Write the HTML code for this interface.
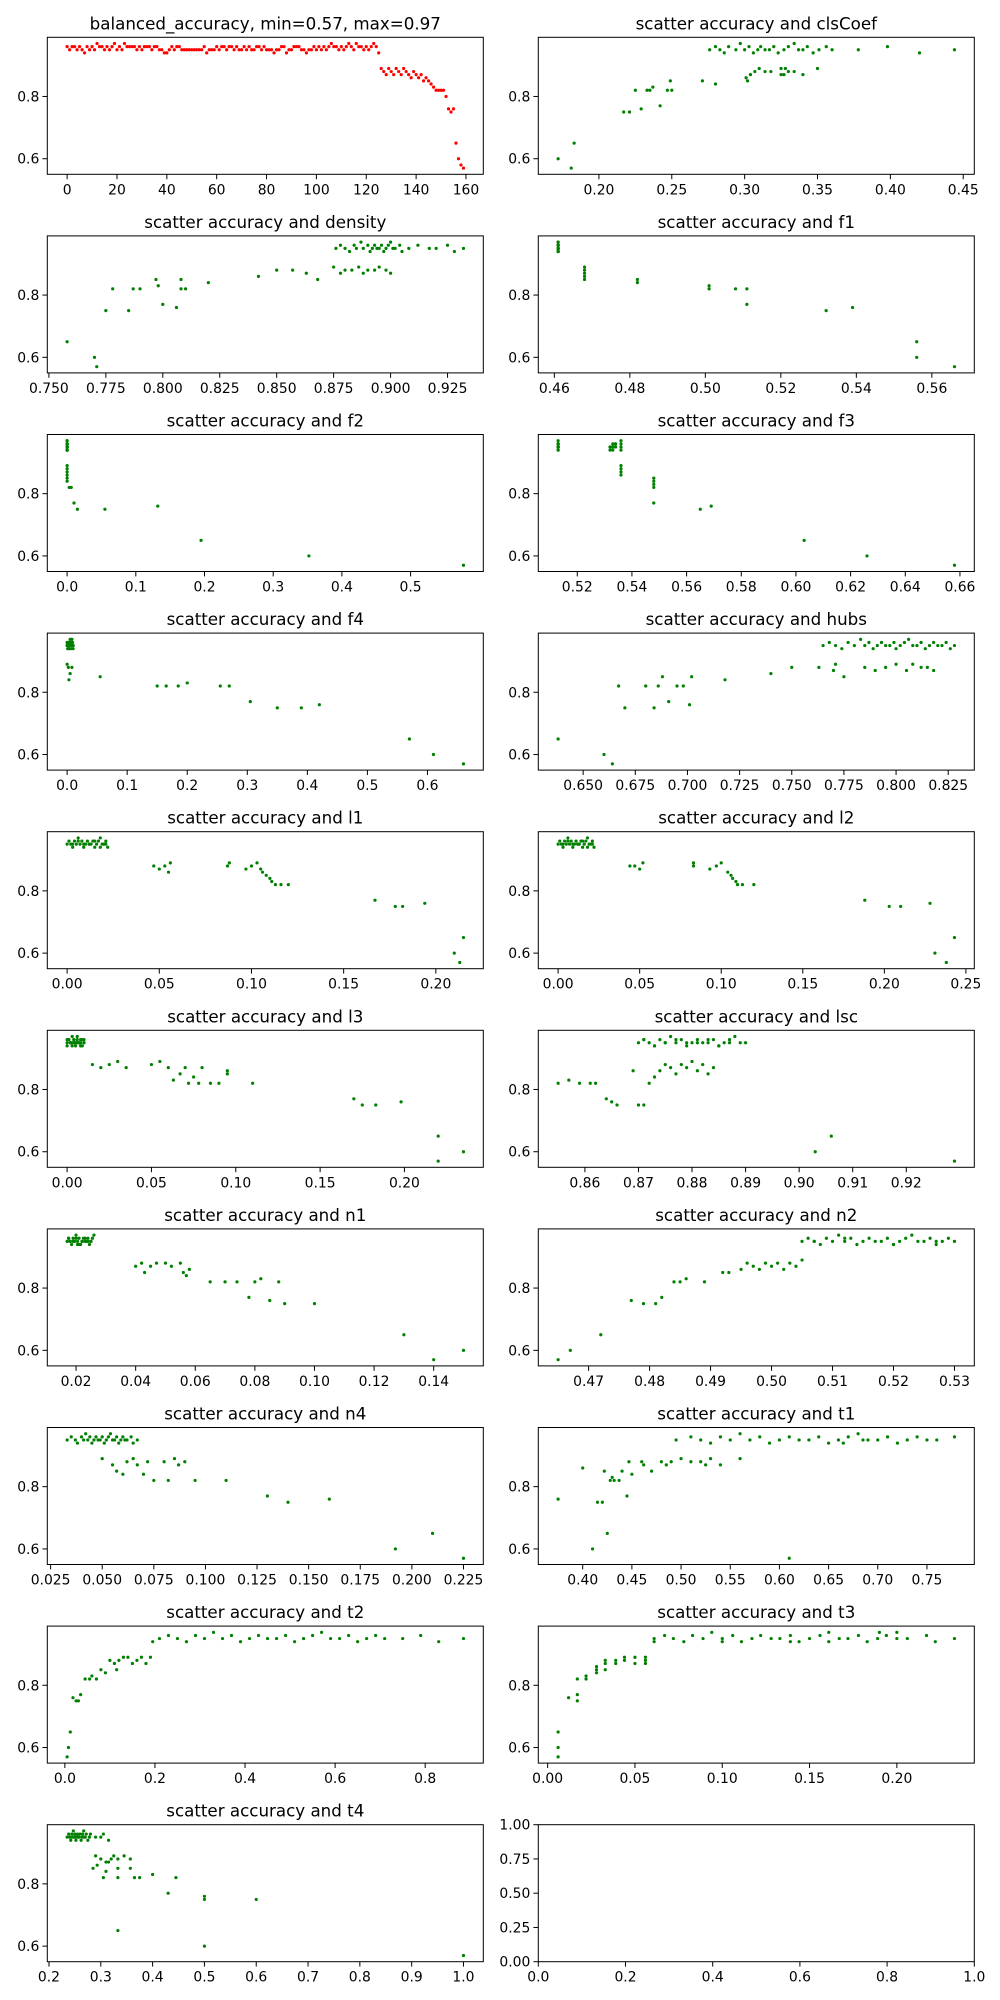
<!DOCTYPE html>
<html><head><meta charset="utf-8"><title>accuracy scatter grid</title>
<style>
html,body{margin:0;padding:0;background:#fff;}
svg{display:block;font-family:"DejaVu Sans","Liberation Sans",sans-serif;}
</style></head>
<body>
<svg id="fig" width="1000" height="2000" viewBox="0 0 1000 2000" xmlns="http://www.w3.org/2000/svg"></svg>
<script>
// ---------- data ----------
const accTop = [0.95,0.96,0.95,0.94,0.96,0.95,0.97,0.95,0.96,0.94,0.95,0.96,0.95,0.95,0.96,0.94,0.95,0.96,0.97,0.95,0.95,0.96,0.94,0.95,0.96,0.95,0.95,0.96,0.94,0.95];

const balancedAcc = [0.96,0.95,0.96,0.96,0.95,0.96,0.95,0.94,0.96,0.95,0.96,0.95,0.97,0.96,0.96,0.95,0.96,0.95,0.96,0.97,0.95,0.96,0.95,0.97,0.96,0.96,0.96,0.96,0.95,0.96,
0.95,0.96,0.96,0.96,0.95,0.96,0.96,0.95,0.95,0.94,0.94,0.95,0.96,0.95,0.96,0.96,0.95,0.95,0.95,0.95,0.95,0.95,0.95,0.95,0.95,0.96,0.94,0.95,0.95,0.95,
0.96,0.95,0.96,0.96,0.95,0.96,0.96,0.95,0.96,0.95,0.95,0.96,0.95,0.96,0.95,0.95,0.96,0.96,0.95,0.96,0.95,0.95,0.95,0.94,0.95,0.95,0.96,0.96,0.94,0.95,
0.95,0.96,0.96,0.96,0.95,0.95,0.94,0.95,0.95,0.96,0.95,0.96,0.95,0.96,0.95,0.96,0.97,0.96,0.96,0.95,0.96,0.95,0.96,0.97,0.96,0.95,0.97,0.96,0.96,0.95,
0.96,0.95,0.96,0.97,0.96,0.94,
0.89,0.88,0.87,0.89,0.88,0.87,0.89,0.88,0.87,0.89,0.88,0.87,0.86,0.88,0.87,0.86,0.87,0.85,0.86,0.85,0.84,0.83,0.82,0.82,0.82,0.82,0.80,0.76,0.75,0.76,0.65,0.60,0.58,0.57];

const clsTopX=[0.276,0.28,0.283,0.286,0.289,0.294,0.297,0.3,0.303,0.306,0.309,0.311,0.314,0.317,0.32,0.323,0.327,0.33,0.334,0.337,0.34,0.343,0.347,0.351,0.356,0.36,0.378,0.398,0.42,0.444];
const clsLowX=[0.172,0.181,0.183,0.217,0.221,0.225,0.229,0.233,0.235,0.237,0.242,0.247,0.249,0.25,0.271,0.28,0.301,0.302,0.304,0.307,0.31,0.314,0.318,0.325,0.325,0.327,0.328,0.33,0.334,0.34,0.35];
const clsLowY=[0.60,0.57,0.65,0.75,0.75,0.82,0.76,0.82,0.82,0.83,0.77,0.82,0.85,0.82,0.85,0.84,0.86,0.85,0.87,0.88,0.89,0.88,0.88,0.89,0.87,0.87,0.89,0.88,0.88,0.87,0.89];

const denTopX=[0.876,0.878,0.88,0.882,0.884,0.885,0.887,0.888,0.89,0.891,0.892,0.893,0.894,0.895,0.896,0.897,0.898,0.899,0.9,0.901,0.902,0.904,0.905,0.908,0.912,0.917,0.92,0.925,0.928,0.932];
const denLowX=[0.758,0.77,0.771,0.775,0.778,0.785,0.787,0.79,0.797,0.798,0.8,0.806,0.808,0.808,0.81,0.82,0.842,0.85,0.857,0.863,0.868,0.875,0.878,0.88,0.883,0.886,0.888,0.89,0.893,0.895,0.898,0.9];
const denLowY=[0.65,0.60,0.57,0.75,0.82,0.75,0.82,0.82,0.85,0.83,0.77,0.76,0.85,0.82,0.82,0.84,0.86,0.88,0.88,0.87,0.85,0.89,0.87,0.88,0.88,0.89,0.87,0.88,0.88,0.89,0.88,0.87];

const f1TopX=[0.461,0.461,0.461,0.461,0.461,0.461,0.461,0.461,0.461,0.461,0.461,0.461,0.461,0.461,0.461,0.461,0.461,0.461,0.461,0.461,0.461,0.461,0.461,0.461,0.461,0.461,0.461,0.461,0.461,0.461];
const f1LowX=[0.468,0.468,0.468,0.468,0.468,0.482,0.482,0.501,0.501,0.508,0.511,0.511,0.532,0.539,0.556,0.556,0.566];
const f1LowY=[0.89,0.88,0.87,0.86,0.85,0.85,0.84,0.83,0.82,0.82,0.82,0.77,0.75,0.76,0.65,0.60,0.57];

const f2TopX=[0,0,0,0,0,0,0,0,0,0,0,0,0,0,0,0,0,0,0,0,0,0,0,0,0,0,0,0,0,0];
const f2LowX=[0,0,0,0,0,0,0.003,0.006,0.01,0.015,0.055,0.132,0.195,0.352,0.577];
const f2LowY=[0.89,0.88,0.87,0.86,0.85,0.84,0.82,0.82,0.77,0.75,0.75,0.76,0.65,0.60,0.57];

const f3TopX=[0.513,0.513,0.513,0.513,0.513,0.513,0.513,0.513,0.513,0.513,0.513,0.513,0.513,0.513,0.513,0.532,0.533,0.534,0.536,0.532,0.533,0.534,0.536,0.532,0.533,0.534,0.536,0.536,0.533,0.534];
const f3LowX=[0.536,0.536,0.536,0.536,0.548,0.548,0.548,0.548,0.548,0.565,0.569,0.603,0.626,0.658];
const f3LowY=[0.89,0.88,0.87,0.86,0.85,0.84,0.83,0.82,0.77,0.75,0.76,0.65,0.60,0.57];

const f4TopX=[0,0.001,0.002,0.003,0.005,0.006,0.008,0.01,0,0.001,0.002,0.003,0.005,0.006,0.008,0.01,0,0.002,0.005,0.008,0,0.001,0.003,0.006,0.009,0,0.002,0.004,0.007,0.01];
const f4LowX=[0,0.002,0.005,0.008,0.003,0.055,0.15,0.165,0.185,0.2,0.255,0.27,0.305,0.35,0.39,0.42,0.57,0.61,0.66];
const f4LowY=[0.89,0.88,0.86,0.88,0.84,0.85,0.82,0.82,0.82,0.83,0.82,0.82,0.77,0.75,0.75,0.76,0.65,0.60,0.57];

const hubTopX=[0.765,0.768,0.771,0.774,0.777,0.78,0.783,0.785,0.787,0.789,0.791,0.793,0.795,0.797,0.799,0.8,0.802,0.804,0.806,0.808,0.81,0.812,0.814,0.816,0.818,0.82,0.822,0.824,0.826,0.828];
const hubLowX=[0.638,0.66,0.664,0.667,0.67,0.68,0.684,0.686,0.688,0.691,0.695,0.698,0.701,0.702,0.718,0.74,0.75,0.763,0.77,0.771,0.775,0.785,0.79,0.795,0.8,0.805,0.808,0.812,0.815,0.818];
const hubLowY=[0.65,0.60,0.57,0.82,0.75,0.82,0.75,0.82,0.85,0.77,0.82,0.82,0.76,0.85,0.84,0.86,0.88,0.88,0.87,0.89,0.85,0.88,0.87,0.88,0.89,0.87,0.89,0.88,0.88,0.87];

const l1TopX=[0,0.001,0.002,0.003,0.004,0.005,0.006,0.007,0.008,0.009,0.01,0.011,0.012,0.013,0.014,0.015,0.016,0.017,0.018,0.019,0.02,0.021,0.022,0.003,0.006,0.009,0.012,0.015,0.018,0.021];
const l1LowX=[0.047,0.05,0.053,0.055,0.056,0.087,0.088,0.097,0.1,0.103,0.105,0.106,0.108,0.11,0.111,0.113,0.116,0.12,0.167,0.178,0.182,0.194,0.21,0.213,0.215];
const l1LowY=[0.88,0.87,0.88,0.86,0.89,0.88,0.89,0.87,0.88,0.89,0.87,0.86,0.85,0.84,0.83,0.82,0.82,0.82,0.77,0.75,0.75,0.76,0.60,0.57,0.65];

const l2TopX=[0,0.001,0.002,0.003,0.004,0.005,0.006,0.007,0.008,0.009,0.01,0.011,0.012,0.013,0.014,0.015,0.016,0.017,0.018,0.019,0.02,0.021,0.022,0.003,0.006,0.009,0.012,0.015,0.018,0.021];
const l2LowX=[0.044,0.047,0.05,0.052,0.083,0.083,0.093,0.097,0.1,0.104,0.106,0.107,0.109,0.11,0.113,0.12,0.188,0.203,0.21,0.228,0.231,0.238,0.243];
const l2LowY=[0.88,0.88,0.87,0.89,0.89,0.88,0.87,0.88,0.89,0.86,0.85,0.84,0.83,0.82,0.82,0.82,0.77,0.75,0.75,0.76,0.60,0.57,0.65];

const l3TopX=[0,0.001,0.002,0.003,0.004,0.005,0.006,0.007,0.008,0.009,0.01,0,0.002,0.004,0.006,0.008,0.01,0.001,0.003,0.005,0.007,0.009,0,0.002,0.004,0.006,0.008,0.01,0.005,0.003];
const l3LowX=[0.015,0.02,0.025,0.03,0.035,0.05,0.055,0.06,0.063,0.067,0.07,0.072,0.075,0.078,0.08,0.085,0.09,0.095,0.095,0.11,0.17,0.175,0.183,0.198,0.22,0.22,0.235];
const l3LowY=[0.88,0.87,0.88,0.89,0.87,0.88,0.89,0.87,0.83,0.85,0.87,0.82,0.84,0.82,0.87,0.82,0.82,0.85,0.86,0.82,0.77,0.75,0.75,0.76,0.65,0.57,0.60];

const lscTopX=[0.87,0.871,0.872,0.873,0.874,0.875,0.876,0.877,0.878,0.879,0.88,0.881,0.882,0.883,0.884,0.885,0.886,0.887,0.888,0.889,0.89,0.871,0.873,0.875,0.877,0.879,0.881,0.883,0.885,0.887];
const lscLowX=[0.855,0.857,0.859,0.861,0.862,0.864,0.865,0.866,0.869,0.87,0.871,0.872,0.873,0.874,0.875,0.876,0.877,0.878,0.879,0.88,0.881,0.882,0.883,0.884,0.903,0.906,0.929];
const lscLowY=[0.82,0.83,0.82,0.82,0.82,0.77,0.76,0.75,0.86,0.75,0.75,0.82,0.84,0.86,0.88,0.87,0.85,0.88,0.87,0.89,0.86,0.88,0.85,0.87,0.60,0.65,0.57];

const n1TopX=[0.017,0.0175,0.018,0.0185,0.019,0.0195,0.02,0.0205,0.021,0.0215,0.022,0.0225,0.023,0.0235,0.024,0.0245,0.025,0.0255,0.026,0.018,0.019,0.02,0.021,0.022,0.023,0.024,0.025,0.0175,0.0205,0.0235];
const n1LowX=[0.04,0.042,0.043,0.045,0.047,0.05,0.052,0.055,0.056,0.057,0.058,0.065,0.07,0.074,0.078,0.08,0.082,0.085,0.088,0.09,0.1,0.13,0.14,0.15];
const n1LowY=[0.87,0.88,0.85,0.87,0.88,0.88,0.87,0.88,0.85,0.84,0.86,0.82,0.82,0.82,0.77,0.82,0.83,0.76,0.82,0.75,0.75,0.65,0.57,0.60];

const n2TopX=[0.505,0.506,0.507,0.508,0.509,0.51,0.511,0.512,0.513,0.514,0.515,0.516,0.517,0.518,0.519,0.52,0.521,0.522,0.523,0.524,0.525,0.526,0.527,0.528,0.529,0.53,0.507,0.512,0.52,0.527];
const n2LowX=[0.465,0.467,0.472,0.477,0.479,0.481,0.482,0.484,0.485,0.486,0.489,0.492,0.493,0.495,0.496,0.497,0.498,0.499,0.5,0.501,0.502,0.503,0.504,0.505];
const n2LowY=[0.57,0.60,0.65,0.76,0.75,0.75,0.77,0.82,0.82,0.83,0.82,0.85,0.85,0.86,0.88,0.87,0.86,0.88,0.87,0.88,0.86,0.88,0.87,0.89];

const n4TopX=[0.033,0.035,0.037,0.038,0.04,0.041,0.042,0.043,0.044,0.045,0.046,0.047,0.048,0.049,0.05,0.051,0.052,0.053,0.054,0.055,0.056,0.057,0.058,0.059,0.06,0.061,0.062,0.064,0.065,0.067];
const n4LowX=[0.05,0.055,0.057,0.06,0.062,0.065,0.067,0.07,0.072,0.075,0.08,0.082,0.085,0.087,0.09,0.095,0.11,0.13,0.14,0.16,0.192,0.21,0.225];
const n4LowY=[0.89,0.87,0.85,0.84,0.88,0.89,0.87,0.84,0.88,0.82,0.88,0.82,0.89,0.87,0.88,0.82,0.82,0.77,0.75,0.76,0.60,0.65,0.57];

const t1TopX=[0.495,0.51,0.52,0.53,0.54,0.55,0.56,0.57,0.58,0.59,0.6,0.61,0.62,0.63,0.64,0.65,0.66,0.67,0.68,0.69,0.7,0.71,0.72,0.73,0.74,0.75,0.76,0.778,0.665,0.685];
const t1LowX=[0.375,0.4,0.41,0.415,0.42,0.425,0.422,0.428,0.43,0.432,0.437,0.44,0.445,0.447,0.45,0.46,0.462,0.47,0.48,0.485,0.49,0.5,0.51,0.52,0.525,0.53,0.54,0.56,0.61];
const t1LowY=[0.76,0.86,0.60,0.75,0.75,0.65,0.85,0.82,0.83,0.82,0.82,0.85,0.77,0.88,0.84,0.88,0.87,0.85,0.88,0.87,0.88,0.89,0.88,0.88,0.87,0.89,0.87,0.89,0.57];

const t2TopX=[0.21,0.23,0.25,0.27,0.29,0.31,0.33,0.35,0.37,0.39,0.41,0.43,0.45,0.47,0.49,0.51,0.53,0.55,0.57,0.59,0.61,0.63,0.65,0.67,0.69,0.71,0.75,0.79,0.83,0.885];
const t2LowX=[0.005,0.008,0.012,0.018,0.025,0.03,0.035,0.045,0.055,0.06,0.07,0.08,0.09,0.1,0.11,0.115,0.12,0.13,0.14,0.15,0.16,0.17,0.18,0.19,0.195];
const t2LowY=[0.57,0.60,0.65,0.76,0.75,0.75,0.77,0.82,0.82,0.83,0.82,0.85,0.84,0.88,0.87,0.85,0.88,0.89,0.89,0.87,0.88,0.89,0.87,0.89,0.94];

const t3TopX=[0.061,0.067,0.072,0.078,0.083,0.089,0.094,0.1,0.106,0.111,0.117,0.122,0.128,0.133,0.139,0.144,0.15,0.156,0.161,0.167,0.172,0.178,0.183,0.189,0.194,0.2,0.206,0.217,0.222,0.233];
const t3LowX=[0.006,0.006,0.006,0.012,0.017,0.017,0.017,0.022,0.022,0.028,0.028,0.028,0.033,0.033,0.033,0.039,0.039,0.044,0.044,0.05,0.05,0.056,0.056,0.056,0.061,0.1,0.139,0.161,0.19,0.2];
const t3LowY=[0.65,0.60,0.57,0.76,0.77,0.75,0.82,0.82,0.83,0.84,0.85,0.86,0.85,0.87,0.88,0.87,0.88,0.88,0.89,0.87,0.89,0.87,0.88,0.89,0.94,0.94,0.94,0.94,0.97,0.97];

const t4TopX=[0.235,0.238,0.24,0.242,0.244,0.245,0.247,0.248,0.25,0.252,0.254,0.255,0.257,0.258,0.26,0.262,0.264,0.265,0.267,0.268,0.27,0.272,0.275,0.278,0.28,0.29,0.3,0.305,0.315,0.25];
const t4LowX=[0.285,0.29,0.293,0.3,0.305,0.31,0.31,0.315,0.32,0.325,0.333,0.333,0.333,0.333,0.345,0.357,0.357,0.365,0.375,0.4,0.43,0.445,0.5,0.5,0.5,0.6,1.0];
const t4LowY=[0.85,0.89,0.86,0.88,0.82,0.84,0.87,0.87,0.88,0.89,0.65,0.82,0.85,0.88,0.89,0.85,0.88,0.82,0.82,0.83,0.77,0.82,0.75,0.76,0.60,0.75,0.57];

// tick labels per panel
const xTicks = [
 ["0","20","40","60","80","100","120","140","160"],
 ["0.20","0.25","0.30","0.35","0.40","0.45"],
 ["0.750","0.775","0.800","0.825","0.850","0.875","0.900","0.925"],
 ["0.46","0.48","0.50","0.52","0.54","0.56"],
 ["0.0","0.1","0.2","0.3","0.4","0.5"],
 ["0.52","0.54","0.56","0.58","0.60","0.62","0.64","0.66"],
 ["0.0","0.1","0.2","0.3","0.4","0.5","0.6"],
 ["0.650","0.675","0.700","0.725","0.750","0.775","0.800","0.825"],
 ["0.00","0.05","0.10","0.15","0.20"],
 ["0.00","0.05","0.10","0.15","0.20","0.25"],
 ["0.00","0.05","0.10","0.15","0.20"],
 ["0.86","0.87","0.88","0.89","0.90","0.91","0.92"],
 ["0.02","0.04","0.06","0.08","0.10","0.12","0.14"],
 ["0.47","0.48","0.49","0.50","0.51","0.52","0.53"],
 ["0.025","0.050","0.075","0.100","0.125","0.150","0.175","0.200","0.225"],
 ["0.40","0.45","0.50","0.55","0.60","0.65","0.70","0.75"],
 ["0.0","0.2","0.4","0.6","0.8"],
 ["0.00","0.05","0.10","0.15","0.20"],
 ["0.2","0.3","0.4","0.5","0.6","0.7","0.8","0.9","1.0"],
 ["0.0","0.2","0.4","0.6","0.8","1.0"]
];
const yTicksScatter = ["0.6","0.8"];
const yTicksEmpty = ["0.00","0.25","0.50","0.75","1.00"];
const panelNames = ["clsCoef","density","f1","f2","f3","f4","hubs","l1","l2","l3","lsc","n1","n2","n4","t1","t2","t3","t4"];

// ---------- drawing ----------
const NS="http://www.w3.org/2000/svg";
const svg=document.getElementById('fig');
function mk(tag,attrs,parent){const e=document.createElementNS(NS,tag);for(const k in attrs)e.setAttribute(k,attrs[k]);(parent||svg).appendChild(e);return e;}

const W=436,H=137,L0=47.3,L1=538.3,T0=37.3,DY=198.6;
function lim(a){let mn=Math.min(...a),mx=Math.max(...a);const m=(mx-mn)*0.05;return [mn-m,mx+m];}

function panel(i,xs,ys,title,color,empty){
  const row=Math.floor(i/2),col=i%2;
  const left=col?L1:L0, top=T0+row*DY;
  const g=mk('g',{});
  
  
  let xl,yl;
  if(empty){xl=[0,1];yl=[0,1];}else{xl=lim(xs);yl=lim(ys);}
  const sx=v=>left+(v-xl[0])/(xl[1]-xl[0])*W;
  const sy=v=>top+H-(v-yl[0])/(yl[1]-yl[0])*H;
  if(title){
    const t=mk('text',{x:left+W/2,y:top-8,'text-anchor':'middle','font-size':'16.7',fill:'#000'},g);
    t.textContent=title;
    
    
  }
  const pts=mk('g',{fill:color},g);
  
  
  for(let k=0;k<xs.length;k++){
    const c=mk('circle',{cx:sx(xs[k]).toFixed(2),cy:sy(ys[k]).toFixed(2),r:1.6},pts);
    
    
  }
  const fr=mk('rect',{x:left,y:top,width:W,height:H,fill:'none',stroke:'#000','stroke-width':1},g);
  
  
  const xa=mk('g',{},g);
  
  
  xTicks[i].forEach(s=>{const v=parseFloat(s),x=sx(v);
    mk('line',{x1:x,y1:top+H,x2:x,y2:top+H+4.9,stroke:'#000','stroke-width':1},xa);
    const t=mk('text',{x:x,y:top+H+20,'text-anchor':'middle','font-size':'13.9',fill:'#000'},xa);t.textContent=s;
    
    
  });
  const ya=mk('g',{},g);
  
  
  (empty?yTicksEmpty:yTicksScatter).forEach(s=>{const v=parseFloat(s),y=sy(v);
    mk('line',{x1:left-4.9,y1:y,x2:left,y2:y,stroke:'#000','stroke-width':1},ya);
    const t=mk('text',{x:left-8,y:y+5,'text-anchor':'end','font-size':'13.9',fill:'#000'},ya);t.textContent=s;
    
    
  });
}

const idx=balancedAcc.map((_,k)=>k);
panel(0,idx,balancedAcc,'balanced_accuracy, min=0.57, max=0.97','#ff0000',false);
const sets=[[clsTopX,clsLowX,clsLowY],[denTopX,denLowX,denLowY],[f1TopX,f1LowX,f1LowY],[f2TopX,f2LowX,f2LowY],[f3TopX,f3LowX,f3LowY],[f4TopX,f4LowX,f4LowY],[hubTopX,hubLowX,hubLowY],[l1TopX,l1LowX,l1LowY],[l2TopX,l2LowX,l2LowY],[l3TopX,l3LowX,l3LowY],[lscTopX,lscLowX,lscLowY],[n1TopX,n1LowX,n1LowY],[n2TopX,n2LowX,n2LowY],[n4TopX,n4LowX,n4LowY],[t1TopX,t1LowX,t1LowY],[t2TopX,t2LowX,t2LowY],[t3TopX,t3LowX,t3LowY],[t4TopX,t4LowX,t4LowY]];
sets.forEach((s,j)=>{
  const xs=s[0].concat(s[1]), ys=accTop.slice(0,s[0].length).concat(s[2]);
  panel(j+1,xs,ys,'scatter accuracy and '+panelNames[j],'#008000',false);
});
panel(19,[],[],'','#000',true);
</script>
</body></html>
